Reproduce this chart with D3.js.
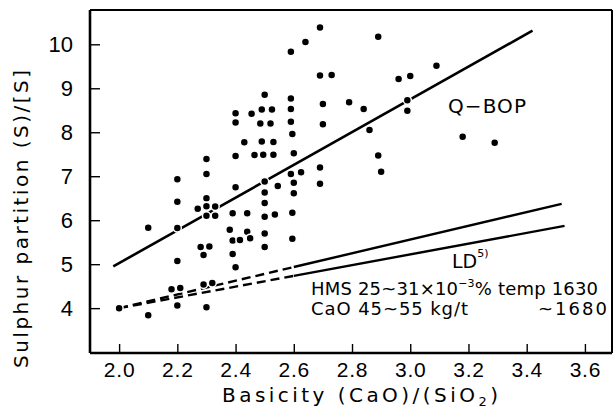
<!DOCTYPE html>
<html>
<head>
<meta charset="utf-8">
<script src="https://cdn.jsdelivr.net/npm/d3@7"></script>
<style>
  html, body { margin: 0; padding: 0; background: #fff; }
  svg { display: block; font-family: "DejaVu Sans", "Liberation Sans", sans-serif; }
</style>
</head>
<body>
<svg id="chart" width="615" height="415"></svg>
<script>
// Basicity (CaO)/(SiO2) of each heat
const basicity = [
  2.00, 2.10, 2.10, 2.20, 2.20, 2.20, 2.20, 2.18, 2.21, 2.20,
  2.27, 2.28, 2.30, 2.30, 2.30, 2.30, 2.33, 2.30, 2.33, 2.31,
  2.29, 2.29, 2.32, 2.30, 2.40, 2.40, 2.43, 2.40, 2.40, 2.39,
  2.38, 2.39, 2.39, 2.40, 2.44, 2.44, 2.415, 2.45, 2.455, 2.465,
  2.49, 2.485, 2.49, 2.495, 2.50, 2.50, 2.50, 2.50, 2.50, 2.50,
  2.50, 2.525, 2.52, 2.53, 2.53, 2.535, 2.545, 2.59, 2.59, 2.59,
  2.59, 2.595, 2.60, 2.59, 2.60, 2.60, 2.595, 2.595, 2.625, 2.64,
  2.69, 2.69, 2.73, 2.70, 2.70, 2.69, 2.69, 2.79, 2.84, 2.86,
  2.89, 2.89, 2.90, 2.96, 3.00, 2.99, 2.99, 3.09, 3.18, 3.29
];
// Sulphur partition (S)/[S] of each heat
const partition = [
  4.00, 3.84, 5.83, 6.93, 6.42, 5.82, 5.07, 4.43, 4.46, 4.06,
  6.26, 5.39, 7.39, 7.05, 6.50, 6.32, 6.31, 6.10, 6.10, 5.40,
  5.21, 4.54, 4.57, 4.02, 8.43, 8.22, 7.77, 7.46, 6.75, 6.16,
  5.78, 5.54, 5.23, 4.93, 6.16, 5.74, 5.55, 5.59, 8.42, 7.48,
  8.52, 8.20, 7.79, 7.49, 8.85, 6.88, 6.63, 6.39, 6.08, 5.70,
  5.39, 8.52, 8.20, 7.78, 7.49, 6.13, 6.78, 9.83, 8.77, 8.53,
  8.24, 7.96, 7.52, 7.05, 6.85, 6.61, 6.17, 5.58, 7.09, 10.05,
  10.38, 9.29, 9.30, 8.64, 8.18, 7.20, 6.83, 8.68, 8.53, 8.05,
  10.17, 7.47, 7.10, 9.21, 9.28, 8.73, 8.49, 9.51, 7.90, 7.76
];

// Regression line for Q-BOP heats
const qbopLine = [[1.98, 4.95], [3.42, 10.31]];
// LD reference lines (dashed below the break, solid above it)
const ldUpper = [[2.00, 4.00], [3.52, 6.37]];
const ldLower = [[2.00, 4.00], [3.53, 5.87]];
const ldBreak = 2.60;

const xTicks = [2.0, 2.2, 2.4, 2.6, 2.8, 3.0, 3.2, 3.4, 3.6];
const yTicks = [4, 5, 6, 7, 8, 9, 10];

const svg = d3.select("#chart");
const plotLeft = 90, plotRight = 612, plotTop = 10, plotBottom = 353;

const x = d3.scaleLinear().domain([1.9, 3.693]).range([plotLeft, plotRight]);
const y = d3.scaleLinear().domain([2.98, 10.78]).range([plotBottom, plotTop]);

// Inward ticks on the bottom and left axes
const xAxis = d3.axisBottom(x).tickValues(xTicks).tickSize(-9).tickFormat(d3.format(".1f")).tickPadding(9);
const yAxis = d3.axisLeft(y).tickValues(yTicks).tickSize(-10).tickFormat(d3.format("d")).tickPadding(17);

const gx = svg.append("g").attr("transform", `translate(0,${plotBottom})`).call(xAxis);
gx.select(".domain").remove();
gx.selectAll(".tick line").attr("stroke", "#000").attr("stroke-width", 1.4);
gx.selectAll(".tick text")
  .attr("font-size", 21).attr("fill", "#000")
  .attr("font-family", "'Liberation Sans', Arial, sans-serif")
  .attr("letter-spacing", 0.8);

const gy = svg.append("g").attr("transform", `translate(${plotLeft},0)`).call(yAxis);
gy.select(".domain").remove();
gy.selectAll(".tick line").attr("stroke", "#000").attr("stroke-width", 1.4);
gy.selectAll(".tick text")
  .attr("font-size", 22).attr("fill", "#000")
  .attr("font-family", "'Liberation Sans', Arial, sans-serif");

// Plot frame
const frame = svg.append("g").attr("stroke", "#000").attr("fill", "none");
frame.append("line").attr("x1", plotLeft).attr("x2", plotRight).attr("y1", plotTop).attr("y2", plotTop).attr("stroke-width", 2);
frame.append("line").attr("x1", plotRight).attr("x2", plotRight).attr("y1", plotTop).attr("y2", plotBottom).attr("stroke-width", 2);
frame.append("line").attr("x1", plotLeft).attr("x2", plotRight).attr("y1", plotBottom).attr("y2", plotBottom).attr("stroke-width", 2.6);
frame.append("line").attr("x1", plotLeft).attr("x2", plotLeft).attr("y1", plotTop).attr("y2", plotBottom).attr("stroke-width", 2.6);

const line = d3.line().x(d => x(d[0])).y(d => y(d[1]));
const at = (seg, xv) => {
  const [[x0, y0], [x1, y1]] = seg;
  return [xv, y0 + (y1 - y0) * (xv - x0) / (x1 - x0)];
};

// Q-BOP line
svg.append("path").datum(qbopLine).attr("d", line)
  .attr("fill", "none").attr("stroke", "#000").attr("stroke-width", 2.6);

// LD lines
[ldUpper, ldLower].forEach(seg => {
  const mid = at(seg, ldBreak);
  svg.append("path").datum([seg[0], mid]).attr("d", line)
    .attr("fill", "none").attr("stroke", "#000").attr("stroke-width", 2.4)
    .attr("stroke-dasharray", "9,5");
  svg.append("path").datum([mid, seg[1]]).attr("d", line)
    .attr("fill", "none").attr("stroke", "#000").attr("stroke-width", 2.4);
});

// Heats
svg.append("g").selectAll("circle")
  .data(basicity.map((b, i) => [b, partition[i]]))
  .join("circle")
  .attr("cx", d => x(d[0])).attr("cy", d => y(d[1]))
  .attr("r", 4)
  .attr("fill", "#000").attr("stroke", "#fff").attr("stroke-width", 1.5);

// Annotations
svg.append("text").attr("x", 448).attr("y", 113)
  .attr("font-size", 20).attr("textLength", 78).attr("lengthAdjust", "spacing")
  .text("Q\u2212BOP");

const ld = svg.append("text").attr("x", 452).attr("y", 268).attr("font-size", 19);
ld.append("tspan").text("LD");
ld.append("tspan").attr("font-size", 11).attr("dy", -11).text("5)");

const l1 = svg.append("text").attr("x", 311).attr("y", 295).attr("font-size", 18)
  .attr("textLength", 287).attr("lengthAdjust", "spacing");
l1.append("tspan").text("HMS 25~31\u00d710");
l1.append("tspan").attr("font-size", 11).attr("dy", -8).text("\u22123");
l1.append("tspan").attr("dy", 8).text("% temp 1630");

svg.append("text").attr("x", 311).attr("y", 315).attr("font-size", 18)
  .attr("textLength", 157).attr("lengthAdjust", "spacing").text("CaO  45~55 kg/t");
svg.append("text").attr("x", 538).attr("y", 315).attr("font-size", 18)
  .attr("textLength", 69).attr("lengthAdjust", "spacing").text("~1680");

// Axis titles
const xt = svg.append("text").attr("x", 222).attr("y", 402)
  .attr("font-size", 20).attr("textLength", 276).attr("lengthAdjust", "spacing");
xt.append("tspan").text("Basicity (CaO)/(SiO");
xt.append("tspan").attr("font-size", 13).attr("dy", 4).text("2");
xt.append("tspan").attr("dy", -4).text(")");

svg.append("text")
  .attr("transform", "translate(28,368) rotate(-90)")
  .attr("font-size", 20).attr("textLength", 298).attr("lengthAdjust", "spacing")
  .text("Sulphur partition (S)/[S]");
</script>
</body>
</html>
